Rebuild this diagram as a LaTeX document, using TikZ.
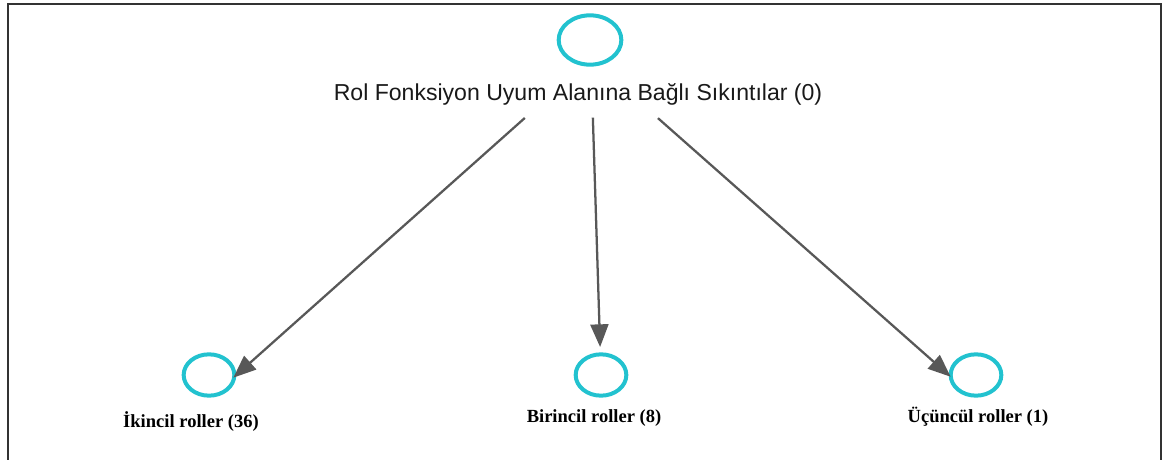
\documentclass[tikz,border=0pt]{standalone}
\usepackage{fontspec}
\setmainfont{Liberation Serif}
\newfontfamily\arialfont{Liberation Sans}
\usetikzlibrary{arrows.meta,shapes.geometric}

\definecolor{nodecyan}{RGB}{34,194,207}
\definecolor{arrowgray}{RGB}{88,88,88}

\tikzset{
  rolnode/.style = {draw = nodecyan, line width = 3pt, ellipse, minimum width = 47pt, minimum height = 37pt, inner sep = 0pt},
  altnode/.style = {draw = nodecyan, line width = 3pt, ellipse, minimum width = 38pt, minimum height = 31pt, inner sep = 0pt},
  rollabel/.style = {anchor = base, font = \bfseries\fontsize{13.9}{15}\selectfont, inner sep = 0pt},
  rolarrow/.style = {draw = arrowgray, line width = 1.7pt, -{Triangle[length = 17pt, width = 13.5pt]}}
}

\begin{document}
\begin{tikzpicture}[x = 0.75pt, y = -0.75pt]
\useasboundingbox (0, 0) rectangle (1163, 460);
%\draw[very thin, color = gray](0, 0) grid[step = 50] (1163, 460);
\draw [line width = 1.4pt, color = black!80] (8, 460) -- (8, 4) -- (1161, 4) -- (1161, 460);
\node [rolnode] (top) at (590, 40) {};
\node [anchor = base, inner sep = 0pt, text = black!90, font = \arialfont\fontsize{17.3}{20}\selectfont] (toplabel) at (578, 100) {Rol Fonksiyon Uyum Alanına Bağlı Sıkıntılar (0)};
\coordinate (hub) at (591, 59);
\node [altnode] (ikincil) at (209, 375) {};
\node [altnode] (birincil) at (601, 375) {};
\node [altnode] (ucuncul) at (976, 375) {};
\node [rollabel] (ikincillabel) at (191, 427) {İkincil roller (36)};
\node [rollabel] (birincillabel) at (594, 422) {Birincil roller (8)};
\node [rollabel] (ucuncullabel) at (978, 422) {Üçüncül roller (1)};
\draw [rolarrow, shorten < = 66.5pt, shorten > = -3pt] (hub) -- (ikincil.east);
\draw [rolarrow, shorten < = 44pt, shorten > = 4pt] (hub) -- (birincil);
\draw [rolarrow, shorten < = 67pt, shorten > = -2pt] (hub) -- (ucuncul.west);
\end{tikzpicture}
\end{document}
